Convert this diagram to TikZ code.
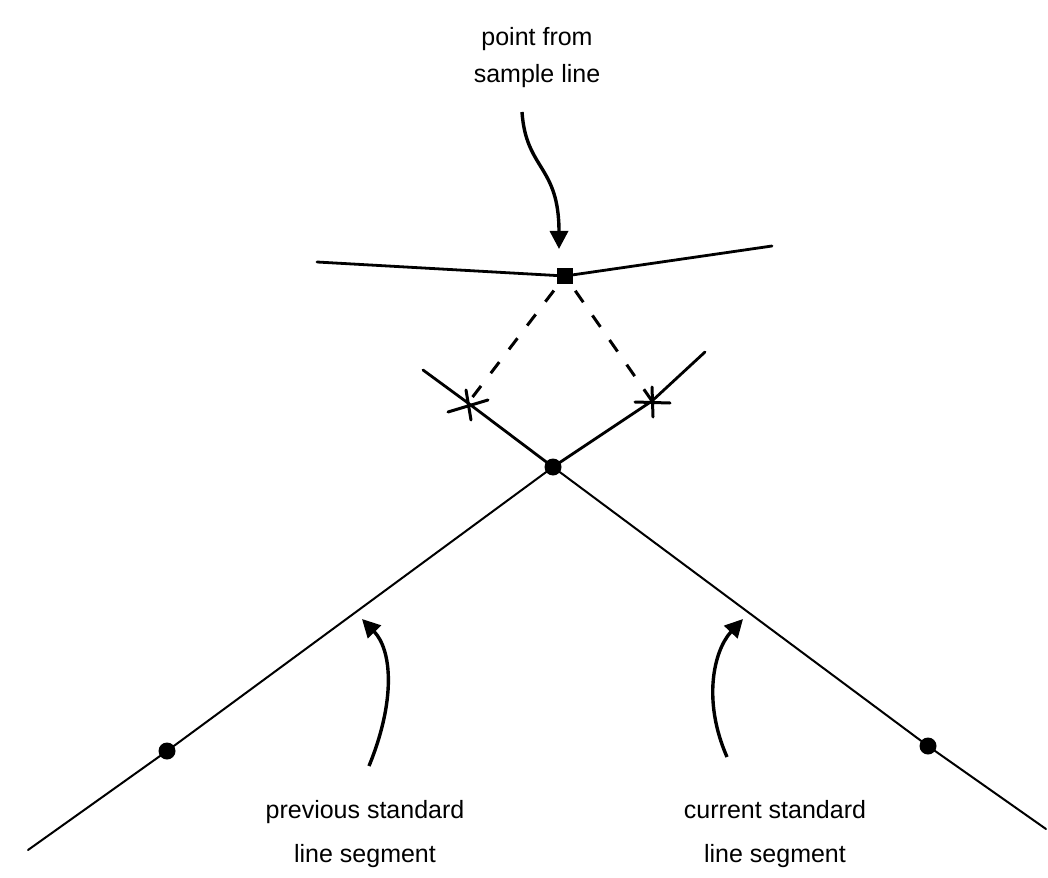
\documentclass[tikz,border=0pt]{standalone}
\usepackage{fontspec}
\setmainfont{Liberation Sans}
\usetikzlibrary{arrows.meta}
\begin{document}
\begin{tikzpicture}[x=1pt,y=-1pt,
  seg/.style={line width=2pt, line cap=round},
  thickseg/.style={line width=2.8pt, line cap=round},
  dotnode/.style={circle, fill=black, inner sep=0pt, minimum size=17pt},
  sqnode/.style={rectangle, fill=black, inner sep=0pt, minimum size=16pt},
  lbl/.style={font=\fontsize{25}{30}\selectfont, anchor=base, inner sep=0pt},
  pointer/.style={line width=3.4pt, -{Triangle[length=18pt,width=18pt]}},
  proj/.style={line width=3pt, dash pattern=on 14pt off 16pt},
  cross/.style={line width=3pt, line cap=round}]
\useasboundingbox (0,0) rectangle (1048,877);
\fill[white] (0,0) rectangle (1048,877);
% labels
\node[lbl] (t1) at (537,46) {point from};
\node[lbl] (t2) at (537,83) {sample line};
\node[lbl] (l1) at (365,818) {previous standard};
\node[lbl] (l2) at (365,862) {line segment};
\node[lbl] (r1) at (775,818) {current standard};
\node[lbl] (r2) at (775,862) {line segment};
% points
\node[dotnode] (pL) at (167,751) {};
\node[dotnode] (pC) at (553,467) {};
\node[dotnode] (pR) at (928,746) {};
\node[sqnode] (sq) at (565,276) {};
\coordinate (sL) at (468,403);
\coordinate (sR) at (652,401);
\coordinate (prevA) at (28,850);
\coordinate (prevB) at (705,352);
\coordinate (curA) at (423,370);
\coordinate (curB) at (1046,829);
\coordinate (topA) at (317,262);
\coordinate (topB) at (772,246);
% lines
\draw[seg] (prevA) -- (pL.center) -- (pC.center);
\draw[thickseg] (pC.center) -- (sR) -- (prevB);
\draw[seg] (curB) -- (pR.center) -- (pC.center);
\draw[thickseg] (pC.center) -- (sL) -- (curA);
\draw[thickseg] (topA) -- (sq.center) -- (topB);
% projections
\draw[proj, shorten <=8pt] (sq) -- (sL);
\draw[proj, shorten <=8pt] (sq) -- (sR);
% stars
\draw[cross, shift={(sL)}] (-20,9) -- (20,-3) (-2,-13) -- (3,17);
\draw[cross, shift={(sR)}] (-17,1) -- (18,2) (0,-14) -- (1,16);
% pointers
\coordinate (aTs) at (522,112);
\coordinate (aTe) at (559,249);
\coordinate (aLs) at (369,766);
\coordinate (aLe) at (362,619);
\coordinate (aRs) at (727,757);
\coordinate (aRe) at (743,619);
\draw[pointer] (aTs) .. controls (526,170) and (559,165) .. (aTe);
\draw[pointer] (aLs) .. controls (396,700) and (392,650) .. (aLe);
\draw[pointer] (aRs) .. controls (702,700) and (714,650) .. (aRe);
\end{tikzpicture}
\end{document}
